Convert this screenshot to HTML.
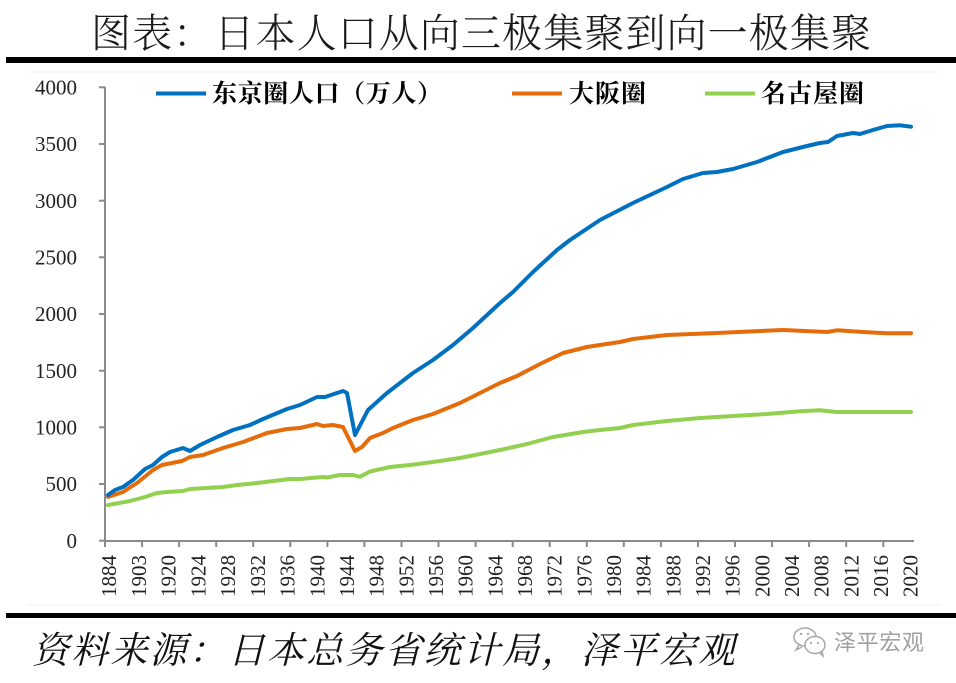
<!DOCTYPE html>
<html>
<head>
<meta charset="utf-8">
<style>
html,body{margin:0;padding:0;background:#fff;}
svg{display:block;}
</style>
</head>
<body>
<svg width="956" height="683" viewBox="0 0 956 683" xmlns="http://www.w3.org/2000/svg">
  <rect width="956" height="683" fill="#ffffff"/>
  <!-- Title -->
  <text x="91" y="47" font-family="'Liberation Serif','Noto Serif CJK SC',serif" font-size="40" font-weight="300" fill="#1a1a1a" textLength="780" lengthAdjust="spacing">图表：日本人口从向三极集聚到向一极集聚</text>
  <rect x="6" y="57" width="950" height="6" fill="#000"/>

  <!-- faint chart border -->
  <line x1="28" y1="72" x2="940" y2="72" stroke="#f0f0f0" stroke-width="1"/>
  <line x1="28" y1="605" x2="940" y2="605" stroke="#f0f0f0" stroke-width="1"/>

  <!-- Legend -->
  <line x1="156" y1="93.5" x2="206" y2="93.5" stroke="#0070C0" stroke-width="4"/>
  <text x="212" y="102" font-family="'Liberation Serif','Noto Serif CJK SC',serif" font-size="25" font-weight="bold" fill="#000" textLength="230" lengthAdjust="spacing">东京圈人口（万人）</text>
  <line x1="512" y1="93.5" x2="562" y2="93.5" stroke="#E46C0A" stroke-width="4"/>
  <text x="569" y="102" font-family="'Liberation Serif','Noto Serif CJK SC',serif" font-size="25" font-weight="bold" fill="#000" textLength="77" lengthAdjust="spacing">大阪圈</text>
  <line x1="705" y1="93.5" x2="755" y2="93.5" stroke="#92D050" stroke-width="4"/>
  <text x="761" y="102" font-family="'Liberation Serif','Noto Serif CJK SC',serif" font-size="25" font-weight="bold" fill="#000" textLength="103" lengthAdjust="spacing">名古屋圈</text>

  <!-- Y axis -->
  <g stroke="#8a8a8a" stroke-width="2">
    <line x1="105" y1="87" x2="105" y2="541"/>
    <line x1="99" y1="87.3" x2="105" y2="87.3"/>
    <line x1="99" y1="144" x2="105" y2="144"/>
    <line x1="99" y1="200.7" x2="105" y2="200.7"/>
    <line x1="99" y1="257.3" x2="105" y2="257.3"/>
    <line x1="99" y1="314" x2="105" y2="314"/>
    <line x1="99" y1="370.7" x2="105" y2="370.7"/>
    <line x1="99" y1="427.3" x2="105" y2="427.3"/>
    <line x1="99" y1="484" x2="105" y2="484"/>
    <line x1="99" y1="540.7" x2="105" y2="540.7"/>
  </g>
  <g font-family="'Liberation Serif',serif" font-size="21" fill="#222" text-anchor="end">
    <text x="77" y="94.5">4000</text>
    <text x="77" y="151.2">3500</text>
    <text x="77" y="207.9">3000</text>
    <text x="77" y="264.5">2500</text>
    <text x="77" y="321.2">2000</text>
    <text x="77" y="377.9">1500</text>
    <text x="77" y="434.5">1000</text>
    <text x="77" y="491.2">500</text>
    <text x="77" y="547.9">0</text>
  </g>

  <!-- X axis -->
  <g stroke="#8a8a8a" stroke-width="2">
    <line x1="104" y1="541" x2="914" y2="541"/>
    <line x1="105" y1="541" x2="105" y2="547"/>
    <line x1="142.1" y1="541" x2="142.1" y2="547"/>
    <line x1="179.1" y1="541" x2="179.1" y2="547"/>
    <line x1="216.2" y1="541" x2="216.2" y2="547"/>
    <line x1="253.2" y1="541" x2="253.2" y2="547"/>
    <line x1="290.3" y1="541" x2="290.3" y2="547"/>
    <line x1="327.4" y1="541" x2="327.4" y2="547"/>
    <line x1="364.4" y1="541" x2="364.4" y2="547"/>
    <line x1="401.5" y1="541" x2="401.5" y2="547"/>
    <line x1="438.5" y1="541" x2="438.5" y2="547"/>
    <line x1="475.6" y1="541" x2="475.6" y2="547"/>
    <line x1="512.7" y1="541" x2="512.7" y2="547"/>
    <line x1="549.7" y1="541" x2="549.7" y2="547"/>
    <line x1="586.8" y1="541" x2="586.8" y2="547"/>
    <line x1="623.8" y1="541" x2="623.8" y2="547"/>
    <line x1="660.9" y1="541" x2="660.9" y2="547"/>
    <line x1="698" y1="541" x2="698" y2="547"/>
    <line x1="735" y1="541" x2="735" y2="547"/>
    <line x1="772.1" y1="541" x2="772.1" y2="547"/>
    <line x1="809.1" y1="541" x2="809.1" y2="547"/>
    <line x1="846.2" y1="541" x2="846.2" y2="547"/>
    <line x1="883.3" y1="541" x2="883.3" y2="547"/>
  </g>
  <g font-family="'Liberation Serif',serif" font-size="21" fill="#222" text-anchor="end">
    <text transform="translate(116,555) rotate(-90)">1884</text>
    <text transform="translate(146,555) rotate(-90)">1903</text>
    <text transform="translate(175.5,555) rotate(-90)">1920</text>
    <text transform="translate(205.5,555) rotate(-90)">1924</text>
    <text transform="translate(235,555) rotate(-90)">1928</text>
    <text transform="translate(265,555) rotate(-90)">1932</text>
    <text transform="translate(294.5,555) rotate(-90)">1936</text>
    <text transform="translate(324.5,555) rotate(-90)">1940</text>
    <text transform="translate(354,555) rotate(-90)">1944</text>
    <text transform="translate(383.5,555) rotate(-90)">1948</text>
    <text transform="translate(413.5,555) rotate(-90)">1952</text>
    <text transform="translate(443,555) rotate(-90)">1956</text>
    <text transform="translate(472.5,555) rotate(-90)">1960</text>
    <text transform="translate(502.5,555) rotate(-90)">1964</text>
    <text transform="translate(532,555) rotate(-90)">1968</text>
    <text transform="translate(561.5,555) rotate(-90)">1972</text>
    <text transform="translate(591.5,555) rotate(-90)">1976</text>
    <text transform="translate(621,555) rotate(-90)">1980</text>
    <text transform="translate(650.5,555) rotate(-90)">1984</text>
    <text transform="translate(680.5,555) rotate(-90)">1988</text>
    <text transform="translate(710,555) rotate(-90)">1992</text>
    <text transform="translate(739.5,555) rotate(-90)">1996</text>
    <text transform="translate(769.5,555) rotate(-90)">2000</text>
    <text transform="translate(799,555) rotate(-90)">2004</text>
    <text transform="translate(828.5,555) rotate(-90)">2008</text>
    <text transform="translate(858.5,555) rotate(-90)">2012</text>
    <text transform="translate(888,555) rotate(-90)">2016</text>
    <text transform="translate(917.5,555) rotate(-90)">2020</text>
  </g>

  <!-- Series -->
  <g fill="none" stroke-width="4" stroke-linejoin="round" stroke-linecap="round">
    <polyline stroke="#92D050" points="108,505 130,501 145,497 157,493 167,492 183,491 190,489 223,487 237,485 257,483 290,479 300,479 323,477 327,477.5 340,475 353,475 360,476.8 370,471.5 390,467 400,466 410,465 433,462 460,458 500,450 527,444 553,437 583,432 600,430 620,428 633,425 667,421 700,418 733,416 767,414 800,411.3 820,410.3 837,412 911,412"/>
    <polyline stroke="#E46C0A" points="108,497 123,492 137,483 153,470 162,465 172,463 182,461 190,457 203,455 223,448 243,442 267,433 287,429 300,428 317,424 323,426 333,425 343,427 348,437 355,451 362,447 370,438 383,433 393,428 413,420 433,414 460,403 480,393 500,383 517,376 540,364 563,353 587,347 600,345 620,342 633,339 667,335 717,333 760,331 783,330 827,332 837,330.3 867,332.3 887,333.3 911,333.3"/>
    <polyline stroke="#0070C0" points="108,495 115,490 123,487 133,480 145,469 153,465 162,457 170,452 183,448 190,451 200,445 217,437 233,430 250,425 263,419 287,409 300,405 317,397 325,397 343,391 347,393 355,435 368,410 387,393 413,373 433,360 453,345 473,328 500,303 513,292 533,272 557,250 570,240 585,230 600,220 633,203 667,187 683,179 703,173 717,172 733,169 757,162 783,152 807,146 820,143 828,142 837,136 853,133 860,134 873,130 887,126 900,125.3 911,126.7"/>
  </g>

  <!-- Bottom bar -->
  <rect x="6" y="613" width="950" height="5" fill="#000"/>

  <!-- Source -->
  <text x="32" y="663" font-family="'Liberation Serif','Noto Serif CJK SC',serif" font-size="37" font-style="italic" fill="#111" textLength="703" lengthAdjust="spacing" transform="skewX(0)">资料来源：日本总务省统计局，泽平宏观</text>

  <!-- Watermark -->
  <g fill="none" stroke="#a8a8a8" stroke-width="1.5">
    <ellipse cx="805" cy="637" rx="11" ry="9"/>
    <ellipse cx="815" cy="645" rx="10" ry="8.5" fill="#fff"/>
    <path d="M799 645 l-3 5 l6 -3"/>
    <path d="M819 652 l4 4 l-1 -5"/>
  </g>
  <g fill="#a8a8a8">
    <circle cx="801" cy="634" r="1.2"/>
    <circle cx="808" cy="634" r="1.2"/>
    <circle cx="811" cy="643" r="1.1"/>
    <circle cx="818" cy="643" r="1.1"/>
  </g>
  <text x="834" y="650" font-family="'Liberation Sans','Noto Sans CJK SC',sans-serif" font-size="22" fill="#a0a0a0" textLength="90" lengthAdjust="spacing">泽平宏观</text>
</svg>
</body>
</html>
